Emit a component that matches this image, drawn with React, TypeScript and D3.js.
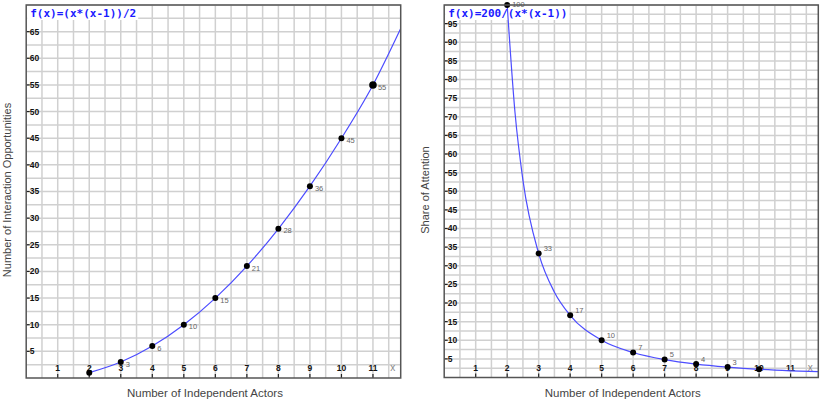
import React, { useRef, useEffect } from 'react';
import * as d3 from 'd3';

// x positions shared by both panels
const actors = [2, 3, 4, 5, 6, 7, 8, 9, 10, 11];
const xTicks = [1, 2, 3, 4, 5, 6, 7, 8, 9, 10, 11];

// left panel: interaction opportunities
const pairValues = [1, 3, 6, 10, 15, 21, 28, 36, 45, 55];
const pairLabels = ['', '3', '6', '10', '15', '21', '28', '36', '45', '55'];
const pairCurveX = [2, 3, 4, 5, 6, 7, 8, 9, 10, 11, 11.88];
const pairCurveY = [1, 3, 6, 10, 15, 21, 28, 36, 45, 55, 65.6];
const pairYTicks = [5, 10, 15, 20, 25, 30, 35, 40, 45, 50, 55, 60, 65];

// right panel: share of attention
const shareX = [2, 3, 4, 5, 6, 7, 8, 9, 10];
const shareValues = [100, 33.3, 16.7, 10, 6.7, 4.8, 3.6, 2.8, 2.2];
const shareLabels = ['100', '33', '17', '10', '7', '5', '4', '3', ''];
const shareCurveX = [2, 2.25, 2.5, 3, 3.5, 4, 5, 6, 7, 8, 9, 10, 11, 11.88];
const shareCurveY = [100, 71, 53, 33.3, 22.9, 16.7, 10, 6.7, 4.8, 3.6, 2.8, 2.2, 1.8, 1.55];
const shareYTicks = [5, 10, 15, 20, 25, 30, 35, 40, 45, 50, 55, 60, 65, 70, 75, 80, 85, 90, 95];

const Panel = ({ svg, left, right, top, bottom, yMax, yTicks, ptsX, ptsY, labels, curveX, curveY,
  title, yTitle, labelDx, labelDy, bigLast }) => {
  const g = svg.append('g');
  const x = d3.scaleLinear().domain([0, 11.88]).range([left, right]);
  const y = d3.scaleLinear().domain([0, yMax]).range([bottom, top]);

  g.append('rect')
    .attr('x', left).attr('y', top)
    .attr('width', right - left).attr('height', bottom - top)
    .attr('fill', '#fff');

  // grid every half unit in x, 2.5 in y
  g.selectAll('.gx')
    .data(d3.range(1, 24).map(i => i * 0.5))
    .enter().append('line')
    .attr('x1', d => x(d)).attr('x2', d => x(d))
    .attr('y1', top).attr('y2', bottom)
    .attr('stroke', '#d0d0d0').attr('stroke-width', 1.5);
  g.selectAll('.gy')
    .data(d3.range(1, Math.floor(yMax / 2.5) + 1).map(i => i * 2.5))
    .enter().append('line')
    .attr('x1', left).attr('x2', right)
    .attr('y1', d => y(d)).attr('y2', d => y(d))
    .attr('stroke', '#d0d0d0').attr('stroke-width', 1.5);

  // title with white box
  const titleText = g.append('text')
    .attr('x', left + 4).attr('y', top + 12)
    .attr('font-family', 'DejaVu Sans Mono').attr('font-weight', 'bold')
    .attr('font-size', 11).attr('fill', '#1a1aff')
    .text(title);
  const bb = titleText.node().getBBox();
  g.insert('rect', () => titleText.node())
    .attr('x', left + 1).attr('y', top + 1)
    .attr('width', bb.width + 5).attr('height', 14)
    .attr('fill', '#fff');

  // y ticks
  const yt = g.selectAll('.yt').data(yTicks).enter().append('g');
  yt.append('line')
    .attr('x1', left).attr('x2', left + 3.5)
    .attr('y1', d => y(d)).attr('y2', d => y(d))
    .attr('stroke', '#222').attr('stroke-width', 1.2);
  yt.append('text')
    .attr('x', left + 3.5).attr('y', d => y(d))
    .attr('dy', '0.35em')
    .attr('font-family', 'Liberation Sans').attr('font-weight', 'bold')
    .attr('font-size', 8.5).attr('fill', '#111')
    .text(d => d);

  // x ticks (labels sit above the axis)
  const xt = g.selectAll('.xt').data(xTicks).enter().append('g');
  xt.append('line')
    .attr('x1', d => x(d)).attr('x2', d => x(d))
    .attr('y1', bottom - 4).attr('y2', bottom)
    .attr('stroke', '#222').attr('stroke-width', 1.2);
  xt.append('text')
    .attr('x', d => x(d)).attr('y', bottom - 7)
    .attr('text-anchor', 'middle')
    .attr('font-family', 'Liberation Sans').attr('font-weight', 'bold')
    .attr('font-size', 8.5).attr('fill', '#111')
    .text(d => d);
  g.append('text')
    .attr('x', right - 8).attr('y', bottom - 7)
    .attr('text-anchor', 'middle')
    .attr('font-family', 'Liberation Sans')
    .attr('font-size', 10).attr('fill', '#888')
    .text('x');

  // curve
  const clipId = `clip-${left}`;
  svg.append('defs').append('clipPath').attr('id', clipId)
    .append('rect')
    .attr('x', left).attr('y', top - 2)
    .attr('width', right - left).attr('height', bottom - top + 2);
  const line = d3.line()
    .x(d => x(d[0])).y(d => y(d[1]))
    .curve(d3.curveMonotoneX);
  g.append('path')
    .attr('d', line(curveX.map((v, i) => [v, curveY[i]])))
    .attr('fill', 'none')
    .attr('stroke', '#4d4dff').attr('stroke-width', 1.2)
    .attr('clip-path', `url(#${clipId})`);

  // points and labels
  g.selectAll('.pt').data(ptsX).enter().append('circle')
    .attr('cx', d => x(d)).attr('cy', (d, i) => y(ptsY[i]))
    .attr('r', (d, i) => (bigLast && i === ptsX.length - 1 ? 3.8 : 3))
    .attr('fill', '#000');
  g.selectAll('.pl').data(ptsX).enter().append('text')
    .attr('x', d => x(d) + labelDx)
    .attr('y', (d, i) => Math.max(4, y(ptsY[i]) + labelDy))
    .attr('dy', '0.35em')
    .attr('font-family', 'Liberation Sans')
    .attr('font-size', 7.5).attr('fill', '#666')
    .text((d, i) => labels[i]);

  // frame
  g.append('rect')
    .attr('x', left).attr('y', top)
    .attr('width', right - left).attr('height', bottom - top)
    .attr('fill', 'none')
    .attr('stroke', '#555').attr('stroke-width', 1.5);

  // axis titles
  g.append('text')
    .attr('x', (left + right) / 2 - 8.5).attr('y', 397)
    .attr('text-anchor', 'middle')
    .attr('font-family', 'Liberation Sans')
    .attr('font-size', 11.5).attr('fill', '#444')
    .text('Number of Independent Actors');
  g.append('text')
    .attr('transform', `translate(${left - 15.5}, 190) rotate(-90)`)
    .attr('text-anchor', 'middle')
    .attr('font-family', 'Liberation Sans')
    .attr('font-size', 11).attr('fill', '#444')
    .text(yTitle);
};

const App = () => {
  const svgRef = useRef(null);

  useEffect(() => {
    const svg = d3.select(svgRef.current);
    svg.selectAll('*').remove();

    Panel({
      svg, left: 26.2, right: 400.7, top: 5, bottom: 378, yMax: 70, yTicks: pairYTicks,
      ptsX: actors, ptsY: pairValues, labels: pairLabels,
      curveX: pairCurveX, curveY: pairCurveY,
      title: 'f(x)=(x*(x-1))/2', yTitle: 'Number of Interaction Opportunities',
      labelDx: 5, labelDy: 2, bigLast: true,
    });
    Panel({
      svg, left: 444.2, right: 818.3, top: 5, bottom: 377.5, yMax: 100, yTicks: shareYTicks,
      ptsX: shareX, ptsY: shareValues, labels: shareLabels,
      curveX: shareCurveX, curveY: shareCurveY,
      title: 'f(x)=200/(x*(x-1))', yTitle: 'Share of Attention',
      labelDx: 5, labelDy: -5, bigLast: false,
    });
  }, []);

  return (
    <svg ref={svgRef} width={821} height={402}
      style={{ position: 'absolute', left: 0, top: 0, background: '#fff' }} />
  );
};

export default App;
